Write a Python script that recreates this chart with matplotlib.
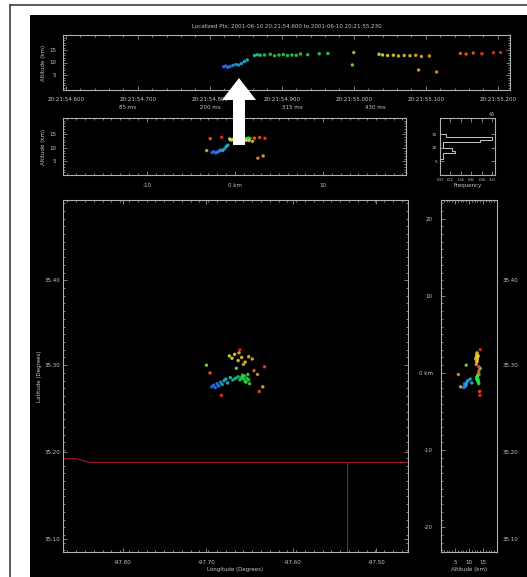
import numpy as np
import matplotlib
matplotlib.use("Agg")
import matplotlib.pyplot as plt
from matplotlib.colors import LinearSegmentedColormap, Normalize
from matplotlib.patches import Rectangle, FancyArrow
from matplotlib.lines import Line2D
from matplotlib.ticker import MultipleLocator, AutoMinorLocator

# ---- source data (time s after 20:21:54.6, east km, north km, altitude km)
t_sec = [0.219, 0.222, 0.225, 0.228, 0.232, 0.236, 0.240, 0.244, 0.248, 0.252,
         0.262, 0.266, 0.270, 0.276, 0.284, 0.290, 0.296, 0.302, 0.308, 0.314,
         0.320, 0.326, 0.336, 0.352, 0.364, 0.400, 0.398,
         0.435, 0.440, 0.447, 0.455, 0.462, 0.470, 0.478, 0.486, 0.494, 0.505,
         0.490, 0.515,
         0.548, 0.556, 0.566, 0.578, 0.594, 0.604]
x_km = [-2.6, -2.4, -2.2, -2.0, -1.8, -1.6, -1.4, -1.2, -1.0, -0.8,
        -0.5, -0.2, 0.1, 0.4, 0.6, 0.8, 1.0, 1.2, 1.4, 1.1,
        1.6, 1.3, 0.9, 1.7, 1.5, 0.2, -3.2,
        -0.6, -0.3, 0.0, 0.4, 0.8, 1.2, 1.6, 0.5, 2.0, 1.0,
        3.2, 2.6,
        2.2, -2.8, 2.8, 3.4, -1.5, 0.6]
y_km = [-1.8, -1.6, -1.9, -1.4, -1.7, -1.2, -1.5, -1.0, -0.8, -1.3,
        -0.6, -0.9, -0.7, -0.5, -0.9, -0.6, -0.8, -1.1, -0.7, -0.4,
        -0.9, -1.2, -0.3, -1.4, -0.2, 0.6, 1.0,
        2.2, 1.9, 2.4, 1.6, 2.0, 1.4, 2.1, 2.6, 1.8, 1.1,
        -1.8, -0.2,
        0.3, 0.0, -2.4, 0.8, -2.9, 3.0]
alt_km = [8.3, 8.6, 8.1, 8.4, 8.8, 9.2, 9.0, 9.6, 10.4, 11.0,
          12.8, 13.1, 12.9, 13.0, 13.3, 12.7, 13.0, 13.2, 12.8, 13.0,
          12.9, 13.4, 13.1, 13.5, 13.6, 14.0, 9.0,
          13.3, 13.0, 12.8, 12.9, 12.6, 12.8, 12.7, 12.9, 12.4, 12.6,
          7.0, 6.2,
          13.6, 13.4, 13.8, 13.5, 13.9, 14.0]

# boundary lines (km)
border_x = [-19.5, -18.0, -16.5, 19.7]
border_y = [-11.1, -11.1, -11.6, -11.6]
county_x = [12.8, 12.8]
county_y = [-11.6, -23.2]

time_ticks = [0.0, 0.1, 0.2, 0.3, 0.4, 0.5, 0.6]
time_labels = ["20:21:54.600", "20:21:54.700", "20:21:54.800", "20:21:54.900",
               "20:21:55.000", "20:21:55.100", "20:21:55.200"]
ms_ticks = [0.085, 0.2, 0.315, 0.43]
ms_labels = ["85 ms", "200 ms", "315 ms", "430 ms"]
lon_pos = [-12.7, -3.2, 6.6, 16.1]
lon_labels = ["-97.80", "-97.70", "-97.60", "-97.50"]
lat_pos = [12.0, 1.0, -10.2, -21.5]
lat_labels = ["35.40", "35.30", "35.20", "35.10"]
km_ticks = [20, 10, 0, -10, -20]
km_labels = ["20", "10", "0 km", "-10", "-20"]
title = "Localized Pts: 2001-06-10 20:21:54.600 to 2001-06-10 20:21:55.230"

W, H = 527, 577
fg = "#c8c8c8"
fs = 4

def rect(l, t, r, b):
    return [l / W, 1 - b / H, (r - l) / W, (b - t) / H]

def style(ax):
    ax.set_facecolor("black")
    for s in ax.spines.values():
        s.set_color("#b0b0b0")
        s.set_linewidth(0.8)
    ax.tick_params(which="both", direction="in", colors="#b0b0b0",
                   labelcolor=fg, labelsize=fs, top=True, right=True, width=0.5)
    ax.tick_params(which="major", length=3)
    ax.tick_params(which="minor", length=1.5)

cmap = LinearSegmentedColormap.from_list("lma", [
    (0.0, "#3050ff"), (0.1, "#20c8e0"), (0.18, "#20e050"), (0.42, "#40e040"),
    (0.55, "#f0f040"), (0.75, "#ffa020"), (1.0, "#ff2020")])
norm = Normalize(0.21, 0.61)
cols = cmap(norm(np.array(t_sec)))
pt = dict(s=6, c=cols, linewidths=0, alpha=0.85)

fig = plt.figure(figsize=(W / 100, H / 100), dpi=100, facecolor="white")
fig.patches.append(Rectangle((30 / W, 0), 1 - 30 / W, 1 - 15 / H, transform=fig.transFigure,
                             facecolor="black", edgecolor="none", zorder=-5))
fig.lines.append(Line2D([10 / W, 10 / W], [0, 1 - 5 / H], transform=fig.transFigure,
                        color="#404040", lw=1.2))
fig.lines.append(Line2D([10 / W, 1], [1 - 5 / H, 1 - 5 / H], transform=fig.transFigure,
                        color="#404040", lw=1.2))

# altitude vs time
ax_t = fig.add_axes(rect(63, 35, 510, 90))
style(ax_t)
ax_t.scatter(t_sec, alt_km, **pt)
ax_t.set_xlim(-0.004, 0.617)
ax_t.set_ylim(-1, 21)
ax_t.set_xticks(time_ticks, time_labels)
ax_t.set_yticks([5, 10, 15])
ax_t.xaxis.set_minor_locator(AutoMinorLocator(5))
ax_t.yaxis.set_minor_locator(AutoMinorLocator(5))
ax_t.tick_params(axis="x", pad=5)
ax_t.tick_params(axis="y", pad=5)
ax_t.set_ylabel("Altitude (km)", color=fg, fontsize=fs, labelpad=2)
ax_t.set_title(title, color=fg, fontsize=fs, pad=5)
sec = ax_t.secondary_xaxis("bottom")
sec.set_xticks(ms_ticks, ms_labels)
sec.tick_params(length=0, labelcolor=fg, labelsize=fs, pad=11)
sec.spines["bottom"].set_visible(False)

# altitude vs east-west
ax_x = fig.add_axes(rect(63, 118, 406, 175))
style(ax_x)
ax_x.scatter(x_km, alt_km, **pt)
ax_x.set_xlim(-19.5, 19.4)
ax_x.set_ylim(0, 21)
ax_x.set_xticks([-10, 0, 10], ["-10", "0 km", "10"])
ax_x.set_yticks([5, 10, 15])
ax_x.xaxis.set_minor_locator(MultipleLocator(1))
ax_x.yaxis.set_minor_locator(AutoMinorLocator(5))
ax_x.tick_params(axis="x", pad=6)
ax_x.tick_params(axis="y", pad=5)
ax_x.set_ylabel("Altitude (km)", color=fg, fontsize=fs, labelpad=2)

# altitude histogram
ax_h = fig.add_axes(rect(440, 118, 495, 175))
style(ax_h)
counts, edges = np.histogram(alt_km, bins=np.arange(0, 22, 1.0))
ax_h.stairs(counts / counts.max(), edges, orientation="horizontal", color=fg, lw=0.7)
ax_h.set_xlim(0, 1.05)
ax_h.set_ylim(0, 21)
ax_h.set_xticks([0, 0.2, 0.4, 0.6, 0.8, 1.0], ["0.0", "0.2", "0.4", "0.6", "0.8", "1.0"])
ax_h.set_yticks([5, 10, 15])
ax_h.tick_params(labelsize=3.2, pad=2)
ax_h.set_xlabel("Frequency", color=fg, fontsize=fs, labelpad=1)
ax_h.text(0.95, 1.02, str(len(t_sec)), transform=ax_h.transAxes, color=fg,
          fontsize=3.5, ha="center", va="bottom")

# plan view
ax_m = fig.add_axes(rect(63, 200, 408, 552))
style(ax_m)
ax_m.plot(border_x, border_y, color="#9a1430", lw=0.8)
ax_m.plot(county_x, county_y, color="#9a1430", lw=0.8)
ax_m.scatter(x_km, y_km, zorder=3, **pt)
ax_m.set_xlim(-19.5, 19.7)
ax_m.set_ylim(-23.2, 22.4)
ax_m.set_xticks(lon_pos, lon_labels)
ax_m.set_yticks(lat_pos, lat_labels)
ax_m.xaxis.set_minor_locator(MultipleLocator(1))
ax_m.yaxis.set_minor_locator(MultipleLocator(1))
ax_m.tick_params(axis="x", pad=6)
ax_m.tick_params(axis="y", pad=2)
ax_m.set_xlabel("Longitude (Degrees)", color=fg, fontsize=fs, labelpad=1)
ax_m.set_ylabel("Latitude (Degrees)", color=fg, fontsize=fs, labelpad=2)

# altitude vs north-south
ax_y = fig.add_axes(rect(441, 200, 497, 552))
style(ax_y)
ax_y.scatter(alt_km, y_km, **pt)
ax_y.set_xlim(0, 20)
ax_y.set_ylim(-23.2, 22.4)
ax_y.set_xticks([5, 10, 15])
ax_y.set_yticks(km_ticks, km_labels)
ax_y.xaxis.set_minor_locator(MultipleLocator(1))
ax_y.yaxis.set_minor_locator(MultipleLocator(1))
ax_y.tick_params(axis="x", pad=6)
ax_y.tick_params(axis="y", pad=6)
ax_y.set_xlabel("Altitude (km)", color=fg, fontsize=fs, labelpad=1)
ax_lat = ax_y.twinx()
ax_lat.set_ylim(-23.2, 22.4)
ax_lat.set_yticks(lat_pos, lat_labels)
ax_lat.tick_params(direction="in", length=0, labelcolor=fg, labelsize=fs, pad=4)
for s in ax_lat.spines.values():
    s.set_visible(False)

# white pointer arrow
fig.patches.append(FancyArrow(2.39, (H - 145) / 100, 0, 0.45, width=0.12,
                              head_width=0.34, head_length=0.22, length_includes_head=False,
                              transform=fig.dpi_scale_trans, facecolor="white",
                              edgecolor="none", zorder=10))

fig.savefig("out.png", dpi=100, facecolor="white")
